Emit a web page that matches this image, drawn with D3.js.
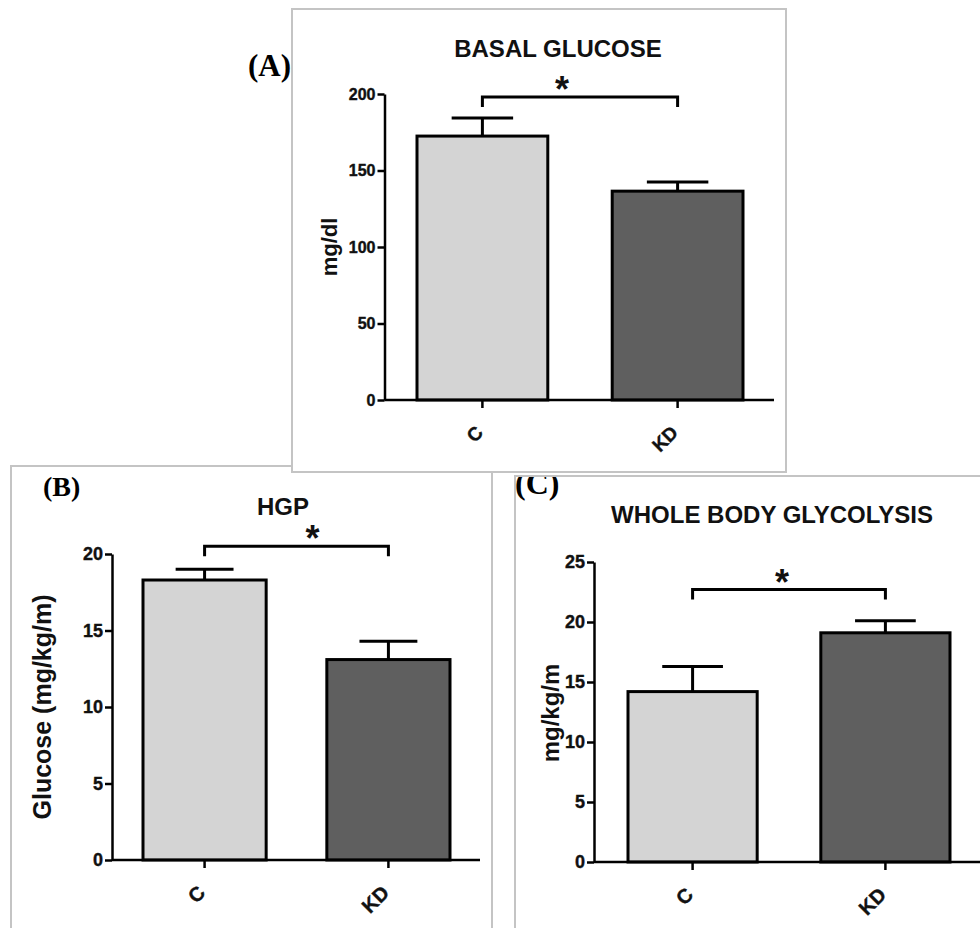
<!DOCTYPE html>
<html lang="en">
<head>
<meta charset="UTF-8">
<title>Basal glucose, HGP and whole body glycolysis</title>
<style>
  body { margin: 0; background: #fff; }
  svg { display: block; font-family: "Liberation Sans", Arial, sans-serif; }
  .frame { fill: #fff; stroke: #c4c4c4; stroke-width: 2; }
  .bar { stroke: #000; stroke-width: 3; }
  .err, .sig { stroke: #000; stroke-width: 3; fill: none; }
  .axis path, .axis line, .xline { stroke: #000; stroke-width: 2.5; }
  .axis text { font-weight: bold; fill: #111; stroke: #111; stroke-width: 0.4; }
  .title, .ylab, .star { font-weight: bold; fill: #111; }
  .plabel { font-family: "Liberation Serif", "Times New Roman", serif; font-weight: bold; fill: #000; }
</style>
</head>
<body>
<script src="https://d3js.org/d3.v7.min.js"></script>
<script>
  // data
  const groups = ["C", "KD"];
  const basalMean = [172.5, 136.5];
  const basalSem = [11.8, 6.0];
  const basalTicks = [0, 50, 100, 150, 200];
  const basalSig = 198;

  const hgpMean = [18.3, 13.1];
  const hgpSem = [0.7, 1.2];
  const hgpTicks = [0, 5, 10, 15, 20];
  const hgpSig = 20.5;

  const glyMean = [14.2, 19.1];
  const glySem = [2.1, 1.0];
  const glyTicks = [0, 5, 10, 15, 20, 25];
  const glySig = 22.7;

  const fills = ["#d4d4d4", "#5f5f5f"];

  const svg = d3.select("body").append("svg")
    .attr("width", 980).attr("height", 928);

  // layout of the three panels (pixels)
  const panels = [
    { label: "(B)", title: "HGP", ylab: "Glucose (mg/kg/m)",
      mean: hgpMean, sem: hgpSem, ticks: hgpTicks, sig: hgpSig,
      frame: [11, 466, 481, 500],
      ax: 112, axEnd: 480, y0: 860, yTop: 554, bars: [143, 450],
      tickFont: 18, xFont: 20, ylabFont: 25, ylabX: 42, ylabY: 707,
      titleX: 283, titleY: 515, starDx: 16,
      plX: 43, plY: 496, plFont: 28 },
    { label: "(C)", title: "WHOLE BODY GLYCOLYSIS", ylab: "mg/kg/m",
      mean: glyMean, sem: glySem, ticks: glyTicks, sig: glySig,
      frame: [515, 476, 500, 500],
      ax: 594, axEnd: 985, y0: 862, yTop: 562, bars: [628, 950],
      tickFont: 18, xFont: 20, ylabFont: 24, ylabX: 551, ylabY: 713,
      titleX: 772, titleY: 523, starDx: -7,
      plX: 515, plY: 494, plFont: 32, clipTop: 477 },
    { label: "(A)", title: "BASAL GLUCOSE", ylab: "mg/dl",
      mean: basalMean, sem: basalSem, ticks: basalTicks, sig: basalSig,
      frame: [292, 9, 494, 463],
      ax: 384.5, axEnd: 774, y0: 400, yTop: 94, bars: [417, 743],
      tickFont: 16, xFont: 19, ylabFont: 22, ylabX: 329, ylabY: 247,
      titleX: 558, titleY: 57, starDx: -18,
      plX: 248, plY: 76, plFont: 31 }
  ];

  const defs = svg.append("defs");

  panels.forEach((p, k) => {
    const g = svg.append("g");

    g.append("rect").attr("class", "frame")
      .attr("x", p.frame[0]).attr("y", p.frame[1])
      .attr("width", p.frame[2]).attr("height", p.frame[3]);

    const y = d3.scaleLinear()
      .domain([0, d3.max(p.ticks)])
      .range([p.y0, p.yTop]);

    const x = d3.scaleBand()
      .domain(groups)
      .range(p.bars)
      .paddingInner(0.33)
      .paddingOuter(0);

    const bw = x.bandwidth();
    const cx = d => x(d) + bw / 2;

    // bars
    g.selectAll(".bar")
      .data(groups)
      .enter().append("rect")
      .attr("class", "bar")
      .attr("x", d => x(d))
      .attr("y", (d, i) => y(p.mean[i]))
      .attr("width", bw)
      .attr("height", (d, i) => y(0) - y(p.mean[i]))
      .attr("fill", (d, i) => fills[i]);

    // upper error bars
    groups.forEach((d, i) => {
      const top = y(p.mean[i] + p.sem[i]);
      g.append("line").attr("class", "err")
        .attr("x1", cx(d)).attr("x2", cx(d))
        .attr("y1", y(p.mean[i])).attr("y2", top);
      g.append("line").attr("class", "err")
        .attr("x1", cx(d) - bw * 0.235).attr("x2", cx(d) + bw * 0.235)
        .attr("y1", top).attr("y2", top);
    });

    // y axis
    g.append("g")
      .attr("class", "axis")
      .attr("transform", `translate(${p.ax},0)`)
      .call(d3.axisLeft(y).tickValues(p.ticks).tickSize(7).tickSizeOuter(0).tickPadding(2))
      .selectAll("text").style("font-size", p.tickFont + "px");

    // x axis line
    g.append("line").attr("class", "xline")
      .attr("x1", p.ax).attr("x2", p.axEnd)
      .attr("y1", p.y0).attr("y2", p.y0);

    const xAxis = g.append("g")
      .attr("class", "axis")
      .attr("transform", `translate(0,${p.y0})`)
      .call(d3.axisBottom(x).tickSize(8).tickSizeOuter(0));
    xAxis.select(".domain").remove();
    xAxis.selectAll("text")
      .attr("y", 0).attr("dy", "0.35em")
      .attr("transform", "translate(-3,29) rotate(-45)")
      .style("text-anchor", "end")
      .style("font-size", p.xFont + "px");

    // significance bracket
    const ys = y(p.sig);
    const x1 = cx(groups[0]), x2 = cx(groups[1]);
    g.append("path").attr("class", "sig")
      .attr("d", `M${x1},${ys + 10}V${ys}H${x2}V${ys + 10}`);
    g.append("text").attr("class", "star")
      .attr("x", (x1 + x2) / 2 + p.starDx)
      .attr("y", ys + 5)
      .attr("text-anchor", "middle")
      .style("font-size", "36px")
      .text("*");

    // titles and labels
    g.append("text").attr("class", "title")
      .attr("x", p.titleX).attr("y", p.titleY)
      .attr("text-anchor", "middle")
      .style("font-size", "24px")
      .text(p.title);

    g.append("text").attr("class", "ylab")
      .attr("transform", `translate(${p.ylabX},${p.ylabY}) rotate(-90)`)
      .attr("dy", "0.35em")
      .attr("text-anchor", "middle")
      .style("font-size", p.ylabFont + "px")
      .text(p.ylab);

    const pl = g.append("text").attr("class", "plabel")
      .attr("x", p.plX).attr("y", p.plY)
      .style("font-size", p.plFont + "px")
      .text(p.label);

    if (p.clipTop) {
      defs.append("clipPath").attr("id", "clip" + k)
        .append("rect").attr("x", 0).attr("y", p.clipTop)
        .attr("width", 980).attr("height", 928 - p.clipTop);
      pl.attr("clip-path", `url(#clip${k})`);
    }
  });
</script>
</body>
</html>
